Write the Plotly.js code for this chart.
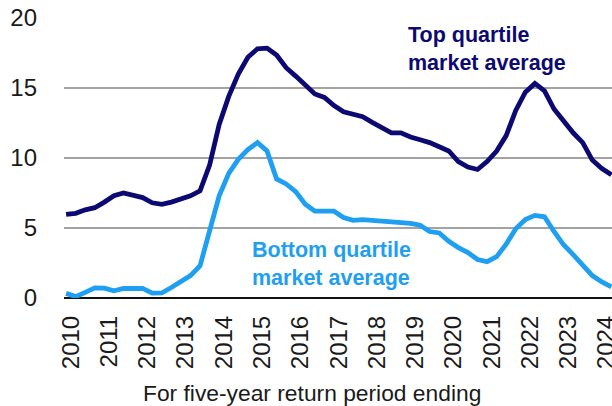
<!DOCTYPE html>
<html>
<head>
<meta charset="utf-8">
<script src="https://cdn.plot.ly/plotly-3.0.1.min.js"></script>
<style>html,body{margin:0;padding:0;background:#fff;}#chart{width:612px;height:406px;}</style>
</head>
<body>
<div id="chart"></div>
<script>
// Quarter-ending points (decimal years)
var periods = [2009.875,2010.125,2010.375,2010.625,2010.875,2011.125,2011.375,2011.625,2011.875,2012.125,
  2012.375,2012.625,2012.875,2013.125,2013.375,2013.625,2013.875,2014.125,2014.375,2014.625,
  2014.875,2015.125,2015.375,2015.625,2015.875,2016.125,2016.375,2016.625,2016.875,2017.125,
  2017.375,2017.625,2017.875,2018.125,2018.375,2018.625,2018.875,2019.125,2019.375,2019.625,
  2019.875,2020.125,2020.375,2020.625,2020.875,2021.125,2021.375,2021.625,2021.875,2022.125,
  2022.375,2022.625,2022.875,2023.125,2023.375,2023.625,2023.875,2024.125];

var topQuartile = [5.98,6.05,6.3,6.45,6.85,7.3,7.5,7.36,7.17,6.8,
  6.69,6.85,7.05,7.3,7.65,9.5,12.4,14.4,16.0,17.2,
  17.8,17.85,17.35,16.45,15.85,15.2,14.57,14.33,13.75,13.3,
  13.1,12.95,12.55,12.15,11.8,11.8,11.5,11.3,11.1,10.8,
  10.5,9.75,9.35,9.18,9.75,10.5,11.6,13.4,14.7,15.33,
  14.8,13.5,12.6,11.8,11.1,9.85,9.25,8.8];

var bottomQuartile = [0.33,0.1,0.4,0.72,0.7,0.52,0.68,0.69,0.69,0.35,
  0.36,0.75,1.15,1.6,2.3,4.7,7.3,8.9,9.9,10.6,
  11.1,10.5,8.5,8.15,7.6,6.7,6.2,6.2,6.2,5.75,
  5.55,5.6,5.55,5.5,5.45,5.4,5.33,5.2,4.75,4.65,
  4.05,3.6,3.25,2.75,2.6,2.95,3.85,4.95,5.6,5.9,
  5.8,4.75,3.8,3.1,2.4,1.6,1.15,0.8];

var yearTicks = [2010,2011,2012,2013,2014,2015,2016,2017,2018,2019,2020,2021,2022,2023,2024];
var yearLabels = ['2010','2011','2012','2013','2014','2015','2016','2017','2018','2019','2020','2021','2022','2023','2024'];
var yTicks = [0,5,10,15,20];
var yLabels = ['0','5','10','15','20'];

var navy = '#0c0a72';
var sky = '#1e9ff2';
var tickFont = {family: 'Liberation Sans, Arial, sans-serif', size: 24, color: '#1a1a1a'};

var traces = [
  {x: periods, y: topQuartile, type: 'scatter', mode: 'lines', name: 'Top quartile market average',
   line: {color: navy, width: 4.8}, hoverinfo: 'skip'},
  {x: periods, y: bottomQuartile, type: 'scatter', mode: 'lines', name: 'Bottom quartile market average',
   line: {color: sky, width: 4.8}, hoverinfo: 'skip'}
];

var layout = {
  width: 612, height: 406,
  margin: {l: 64, r: 0, t: 18, b: 108},
  paper_bgcolor: '#ffffff', plot_bgcolor: '#ffffff',
  showlegend: false,
  xaxis: {
    range: [2009.82, 2024.14],
    tickmode: 'array', tickvals: yearTicks, ticktext: yearLabels,
    tickangle: -90, tickfont: tickFont,
    showgrid: false, zeroline: false, showline: false,
    ticks: '', ticklabelstandoff: 12, ticklabeloverflow: 'allow', fixedrange: true
  },
  yaxis: {
    range: [0, 20],
    tickmode: 'array', tickvals: yTicks, ticktext: yLabels,
    tickfont: tickFont,
    showgrid: true, gridcolor: '#a3a3a3', gridwidth: 1.5,
    zeroline: true, zerolinecolor: '#111111', zerolinewidth: 2.5,
    showline: false, ticks: '', ticklabelstandoff: 26, fixedrange: true
  },
  annotations: [
    {xref: 'paper', yref: 'paper', x: (406 - 64) / 548, y: (298 - 21) / 280,
     xanchor: 'left', yanchor: 'top', align: 'left', showarrow: false,
     text: '<b>Top quartile<br>market average</b>',
     font: {family: 'Liberation Sans, Arial, sans-serif', size: 21.5, color: navy}},
    {xref: 'paper', yref: 'paper', x: (250 - 64) / 548, y: (298 - 236) / 280,
     xanchor: 'left', yanchor: 'top', align: 'left', showarrow: false,
     text: '<b>Bottom quartile<br>market average</b>',
     font: {family: 'Liberation Sans, Arial, sans-serif', size: 21.5, color: sky}},
    {xref: 'paper', yref: 'paper', x: (312 - 64) / 548, y: (298 - 393) / 280,
     xanchor: 'center', yanchor: 'middle', showarrow: false,
     text: 'For five-year return period ending',
     font: {family: 'Liberation Sans, Arial, sans-serif', size: 22.8, color: '#1a1a1a'}}
  ]
};

Plotly.newPlot('chart', traces, layout, {displayModeBar: false, staticPlot: true});
</script>
</body>
</html>
